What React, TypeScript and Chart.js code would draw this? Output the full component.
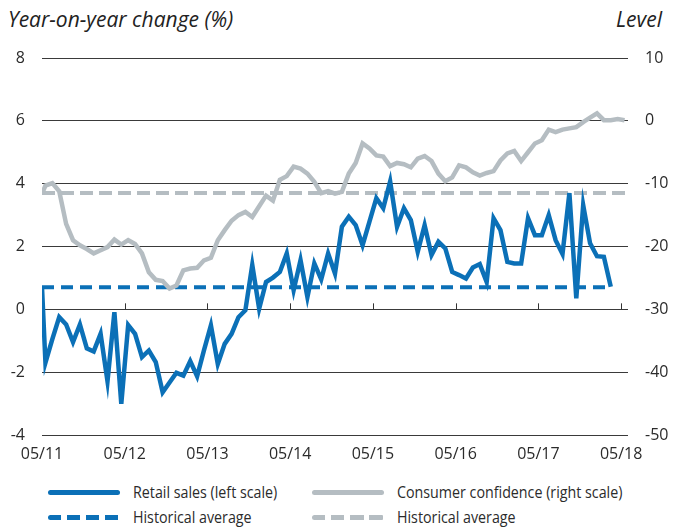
import React, { useEffect, useRef } from "react";
import { Chart, registerables } from "chart.js";

Chart.register(...registerables);

// x-axis tick labels (one per year, every 12 months)
const tickLabels = ["05/11", "05/12", "05/13", "05/14", "05/15", "05/16", "05/17", "05/18"];

// Monthly values; first entry sits on the 05/11 axis start, later ones mid-month
const retailSales = [
  0.7, -1.7, -0.95, -0.25, -0.48, -1.04, -0.48, -1.24, -1.34, -0.78, -2.29, -0.09, -3.01,
  -0.5, -0.78, -1.52, -1.31, -1.68, -2.64, -2.33, -2.02, -2.11, -1.65, -2.13, -1.3,
  -0.51, -1.74, -1.1, -0.78, -0.25, -0.03, 1.41, 0.02, 0.87, 1.01, 1.19, 1.78,
  0.61, 1.57, 0.39, 1.46, 0.95, 1.78, 1.14, 2.63, 2.95, 2.68, 2.04, 2.79,
  3.54, 3.22, 4.07, 2.63, 3.22, 2.84, 1.83, 2.68, 1.73, 2.15, 1.94, 1.19,
  1.09, 0.98, 1.33, 1.44, 0.87, 2.9, 2.52, 1.51, 1.46, 1.46, 2.9, 2.36,
  2.36, 3.0, 2.2, 1.76, 3.7, 0.35, 3.32, 2.1, 1.69, 1.67, 0.72,
];

const consumerConfidence = [
  -11.6, -10.3, -9.9, -11.2, -16.4, -19.0, -19.8, -20.4, -21.1, -20.6, -20.1, -18.9, -19.7,
  -19.0, -19.6, -21.1, -24.1, -25.3, -25.5, -26.7, -26.2, -23.8, -23.5, -23.4, -22.2,
  -21.8, -19.0, -17.4, -15.9, -15.0, -14.5, -15.3, -13.6, -11.9, -12.7, -9.4, -8.8,
  -7.3, -7.6, -8.4, -9.7, -11.5, -11.2, -11.6, -11.3, -8.4, -6.7, -3.6, -4.4,
  -5.5, -5.7, -7.2, -6.7, -6.9, -7.4, -6.0, -5.6, -6.4, -8.4, -9.6, -9.0,
  -7.1, -7.4, -8.2, -8.7, -8.3, -8.0, -6.3, -5.2, -4.8, -6.4, -5.0, -3.6,
  -3.1, -1.4, -1.8, -1.4, -1.2, -1.0, -0.2, 0.5, 1.2, 0.1, 0.1, 0.3, 0.1,
];

const retailAverage = 0.7;
const confidenceAverage = -11.5;

const BLUE = "#0b70b7";
const GREY = "#b5bdc2";
const TEXT = "#2b2b2b";
const FONT = '"Open Sans", sans-serif';

const W = 683;
const CH = 470;

const zeroTicks = {
  id: "zeroTicks",
  beforeDatasetsDraw(chart: any) {
    const x = chart.scales.x;
    const y = chart.scales.yL;
    const ctx = chart.ctx;
    const y0 = y.getPixelForValue(0);
    ctx.save();
    ctx.strokeStyle = "#333";
    ctx.lineWidth = 1;
    tickLabels.forEach((_, i) => {
      const px = Math.round(x.getPixelForValue(i * 12)) + 0.5;
      ctx.beginPath();
      ctx.moveTo(px, y0);
      ctx.lineTo(px, y0 - 6);
      ctx.stroke();
    });
    ctx.restore();
  },
};

export default function App() {
  const ref = useRef<HTMLCanvasElement>(null);
  useEffect(() => {
    document.body.style.margin = "0";
    const toPoints = (arr: number[]) => arr.map((v, i) => ({ x: i === 0 ? 0 : i - 0.5, y: v }));
    const retailEnd = retailSales.length - 1.5;
    const chart = new Chart(ref.current as HTMLCanvasElement, {
      type: "line",
      data: {
        datasets: [
          {
            label: "Retail sales (left scale)",
            data: toPoints(retailSales),
            yAxisID: "yL",
            borderColor: BLUE,
            borderWidth: 4.5,
            pointRadius: 0,
            clip: 0,
          },
          {
            label: "Consumer confidence (right scale)",
            data: toPoints(consumerConfidence),
            yAxisID: "yR",
            borderColor: GREY,
            borderWidth: 4.5,
            pointRadius: 0,
            clip: 0,
          },
          {
            label: "Historical average",
            data: [
              { x: 0, y: retailAverage },
              { x: retailEnd, y: retailAverage },
            ],
            yAxisID: "yL",
            borderColor: BLUE,
            borderWidth: 4,
            borderDash: [12, 7],
            pointRadius: 0,
            clip: 0,
          },
          {
            label: "Historical average",
            data: [
              { x: 0, y: confidenceAverage },
              { x: 85, y: confidenceAverage },
            ],
            yAxisID: "yR",
            borderColor: GREY,
            borderWidth: 4,
            borderDash: [13, 6],
            pointRadius: 0,
            clip: 0,
          },
        ],
      } as any,
      options: {
        animation: false,
        responsive: false,
        devicePixelRatio: 1,
        layout: { padding: { top: 58, left: 0, right: 0, bottom: 0 } },
        plugins: { legend: { display: false }, tooltip: { enabled: false } },
        scales: {
          x: {
            type: "linear",
            min: 0,
            max: 85,
            position: "bottom",
            grid: { display: false, drawTicks: false },
            border: { display: false },
            afterBuildTicks: (s: any) => {
              s.ticks = tickLabels.map((_, i) => ({ value: i * 12 }));
            },
            afterFit: (s: any) => {
              s.height = CH - 435;
            },
            ticks: {
              autoSkip: false,
              maxRotation: 0,
              padding: 10,
              color: TEXT,
              font: { family: FONT, size: 16 },
              callback: (v: any) => tickLabels[Math.round(Number(v) / 12)],
            },
          },
          yL: {
            type: "linear",
            position: "left",
            min: -4,
            max: 8,
            grid: { color: "#3a3a3a", lineWidth: 1, drawTicks: false },
            border: { display: false },
            afterFit: (s: any) => {
              s.width = 42;
            },
            ticks: {
              stepSize: 2,
              padding: 17,
              color: TEXT,
              font: { family: FONT, size: 16 },
            },
          },
          yR: {
            type: "linear",
            position: "right",
            min: -50,
            max: 10,
            grid: { display: false, drawTicks: false },
            border: { display: false },
            afterFit: (s: any) => {
              s.width = W - 628;
            },
            ticks: {
              stepSize: 10,
              padding: 17,
              color: TEXT,
              font: { family: FONT, size: 16 },
            },
          },
        },
      } as any,
      plugins: [zeroTicks],
    });
    return () => chart.destroy();
  }, []);

  const solid = (c: string) => ({
    position: "absolute" as const,
    width: 72,
    height: 5,
    borderRadius: 3,
    background: c,
  });
  const dashed = (c: string) => ({
    position: "absolute" as const,
    width: 72,
    height: 5,
    borderRadius: 3,
    background: `repeating-linear-gradient(to right, ${c} 0px, ${c} 13.5px, transparent 13.5px, transparent 19px)`,
  });
  const legText = {
    position: "absolute" as const,
    fontFamily: FONT,
    fontSize: 15.5,
    color: TEXT,
    whiteSpace: "nowrap" as const,
    lineHeight: "18px",
    transform: "scaleX(0.92)",
    transformOrigin: "left center",
  };

  return (
    <div style={{ position: "relative", width: W, height: 527, overflow: "hidden", background: "#fff" }}>
      <div
        style={{
          position: "absolute",
          left: 8,
          top: 5,
          fontFamily: FONT,
          fontStyle: "italic",
          fontSize: 21,
          color: "#222",
          whiteSpace: "nowrap",
        }}
      >
        Year-on-year change (%)
      </div>
      <div
        style={{
          position: "absolute",
          right: 21,
          top: 5,
          fontFamily: FONT,
          fontStyle: "italic",
          fontSize: 21,
          color: "#222",
          whiteSpace: "nowrap",
        }}
      >
        Level
      </div>
      <canvas ref={ref} width={W} height={CH} style={{ position: "absolute", left: 0, top: 0, width: W, height: CH }} />
      <div style={{ ...solid(BLUE), left: 48, top: 490 }} />
      <div style={{ ...legText, left: 133, top: 483 }}>Retail sales (left scale)</div>
      <div style={{ ...solid(GREY), left: 312, top: 490 }} />
      <div style={{ ...legText, left: 397, top: 483 }}>Consumer confidence (right scale)</div>
      <div style={{ ...dashed(BLUE), left: 48, top: 515 }} />
      <div style={{ ...legText, left: 133, top: 508 }}>Historical average</div>
      <div style={{ ...dashed(GREY), left: 312, top: 515 }} />
      <div style={{ ...legText, left: 397, top: 508 }}>Historical average</div>
    </div>
  );
}
